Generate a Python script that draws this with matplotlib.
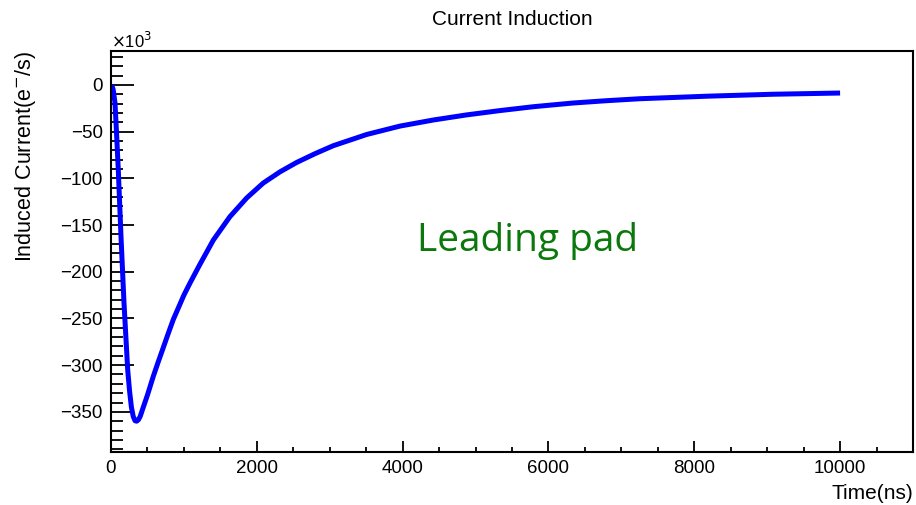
import matplotlib.pyplot as plt
from matplotlib.ticker import MultipleLocator

# ---------------------------------------------------------------- data ----
# induced current on the leading pad (units of 1e3 e-/s)
time_ns = [10, 30, 55, 75, 100, 137, 178, 229, 255, 280, 305, 330, 352,
           375, 400, 443, 500, 580, 650, 718, 790, 855, 1000, 1084, 1220,
           1404, 1631, 1861, 2088, 2318, 2545, 2800, 3049, 3507, 3964,
           4420, 4880, 5336, 5800, 6337, 6800, 7257, 8176, 9081, 10000]
current_k = [0, -5, -19.3, -50, -91, -162, -233, -305, -328, -345, -355,
             -359.5, -360, -358.5, -355, -345, -332, -312, -296, -281,
             -265, -251, -225, -212, -192, -166, -141, -121, -105, -93,
             -83, -73.5, -65, -53, -44, -37.5, -32, -27.4, -23.2, -19.3,
             -16.8, -14.7, -12, -9.9, -8.6]

title = "Current Induction"
xlabel = "Time(ns)"
ylabel = "Induced Current(e$^{-}$/s)"
note = "Leading pad"

# --------------------------------------------------------------- layout ----
plt.rcParams["font.family"] = ["Liberation Sans", "DejaVu Sans"]
fig = plt.figure(figsize=(9.16, 5.05), dpi=100)
ax = fig.add_axes([111 / 916, 53 / 505, 802 / 916, 401 / 505])

ax.plot(time_ns, current_k, color="#0000ff", lw=3.6,
        solid_capstyle="butt", solid_joinstyle="round")

ax.set_xlim(0, 11000)
ax.set_ylim(-393, 36.4)
ax.xaxis.set_major_locator(MultipleLocator(2000))
ax.xaxis.set_minor_locator(MultipleLocator(500))
ax.yaxis.set_major_locator(MultipleLocator(50))
ax.yaxis.set_minor_locator(MultipleLocator(10))

for s in ax.spines.values():
    s.set_linewidth(1.5)
ax.tick_params(axis="both", which="both", direction="in", width=1.3,
               top=False, right=False, labelsize=13.5)
ax.tick_params(axis="y", which="major", length=16.5, pad=6)
ax.tick_params(axis="y", which="minor", length=8.5)
ax.tick_params(axis="x", which="major", length=8, pad=6)
ax.tick_params(axis="x", which="minor", length=3.6)

ax.set_title(title, fontsize=15, pad=19)
ax.set_xlabel(xlabel, fontsize=15, loc="right", labelpad=5)
ax.set_ylabel(ylabel, fontsize=15.5, loc="top", labelpad=16)
ax.text(0, 1.0, r"$\times$10$^{3}$", transform=ax.transAxes,
        ha="left", va="bottom", fontsize=12)
ax.text(0.519, 0.527, note, transform=ax.transAxes, ha="center",
        va="center", fontsize=28, color="#0a780a", family="Open Sans")

fig.savefig("out.png", dpi=100)
